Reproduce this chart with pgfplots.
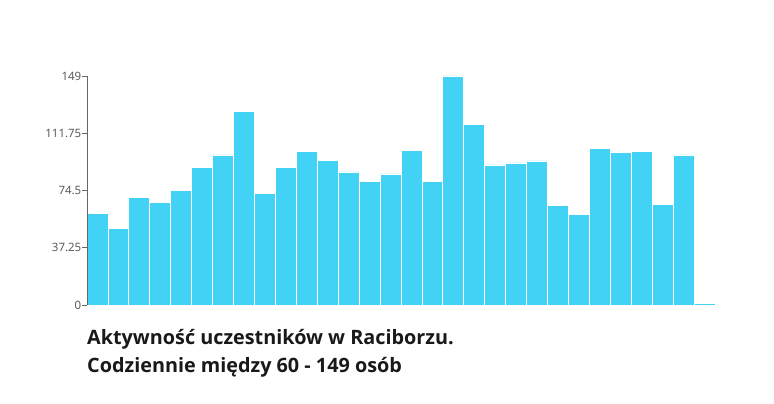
\documentclass[border=0pt]{standalone}
\usepackage{fontspec}
\setmainfont{Open Sans}
\usepackage{pgfplots}
\pgfplotsset{compat=1.18}
\definecolor{barblue}{RGB}{66,210,245}
\definecolor{axgray}{RGB}{102,102,102}
\definecolor{tickgray}{RGB}{80,80,80}
\begin{document}
\begin{tikzpicture}[x=1bp,y=1bp]
\path (0,0) rectangle (774,403);
\begin{axis}[
  at={(87bp,98bp)}, anchor=origin,
  scale only axis, width=628bp, height=229bp,
  xmin=0, xmax=30, ymin=0, ymax=149,
  axis on top,
  axis x line=none,
  axis y line*=left,
  y axis line style={draw=axgray, line width=0.9bp, -},
  ytick={0,37.25,74.5,111.75,149},
  yticklabels={0,37.25,74.5,111.75,149},
  y tick label style={font=\fontsize{11.5bp}{13bp}\selectfont, text=tickgray, inner sep=0.5bp},
  /pgf/number format/assume math mode=true,
  major tick length=5bp,
  ytick style={draw=axgray, line width=0.9bp},
  tick align=outside,
  ybar, bar width=1, bar shift=0pt,
  clip=false,
]
\addplot[fill=barblue, draw=white, line width=0.8bp] coordinates {
(0.5,59.4) (1.5,49.7) (2.5,70.0) (3.5,66.5) (4.5,74.3) (5.5,89.4) (6.5,97.6) (7.5,126.1) (8.5,72.6) (9.5,89.4)
(10.5,99.8) (11.5,93.9) (12.5,86.6) (13.5,80.1) (14.5,85.3) (15.5,100.4) (16.5,80.1) (17.5,149) (18.5,117.7) (19.5,91.1)
(20.5,92.4) (21.5,93.7) (22.5,64.6) (23.5,58.7) (24.5,102.1) (25.5,99.5) (26.5,100.2) (27.5,65.2) (28.5,97.6) (29.5,0.8)
};
\end{axis}
\node[anchor=base west, inner sep=0pt, font=\fontsize{19.8bp}{24bp}\selectfont\bfseries, text=black!90] at (87,59) {Aktywność uczestników w Raciborzu.};
\node[anchor=base west, inner sep=0pt, font=\fontsize{19.8bp}{24bp}\selectfont\bfseries, text=black!90] at (87,31) {Codziennie między 60 - 149 osób};
\end{tikzpicture}
\end{document}
